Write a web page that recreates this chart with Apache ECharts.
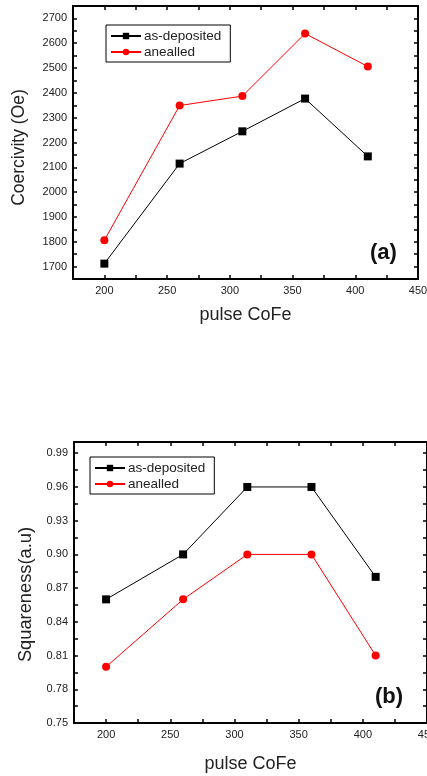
<!DOCTYPE html>
<html>
<head>
<meta charset="utf-8">
<script src="https://cdn.jsdelivr.net/npm/echarts@6/dist/echarts.min.js"></script>
<style>
  html, body { margin: 0; padding: 0; background: #fff; }
  #main { width: 427px; height: 776px; }
</style>
</head>
<body>
<div id="main"></div>
<script>
// pulse CoFe values
var pulses = [200, 260, 310, 360, 410];
// (a) coercivity (Oe)
var coerDeposited = [1712, 2115, 2245, 2377, 2144];
var coerAnealled = [1806, 2349, 2387, 2639, 2506];
// (b) squareness (a.u)
var sqDeposited = [0.86, 0.90, 0.96, 0.96, 0.88];
var sqAnealled = [0.80, 0.86, 0.90, 0.90, 0.81];

var font = 'Liberation Sans, Arial, sans-serif';

function pairs(xs, ys) {
    return xs.map(function (x, i) { return [x, ys[i]]; });
}

// 每50一个主刻度, 25一个小刻度
function xLabel(v) {
    return v % 50 === 0 ? String(v) : '';
}

function frameAxis(pos, grid, min, max, interval, showLabel, fmt) {
    return {
        type: 'value',
        gridIndex: grid,
        position: pos,
        min: min,
        max: max,
        interval: interval,
        axisLine: { show: true, onZero: false, lineStyle: { color: '#000', width: 2 } },
        axisTick: { show: true, inside: true, length: 4, lineStyle: { color: '#000', width: 1.5 } },
        axisLabel: {
            show: showLabel,
            formatter: fmt,
            color: '#222',
            fontSize: 11,
            fontFamily: font,
            margin: 6,
            showMaxLabel: true,
            showMinLabel: true
        },
        splitLine: { show: false }
    };
}

var chart = echarts.init(document.getElementById('main'));

var sqFmt = function (v) {
    var k = (v - 0.75) / 0.015;
    if (Math.abs(k - Math.round(k)) > 0.01) return '';
    return Math.round(k) % 2 === 0 ? v.toFixed(2) : '';
};
var coerFmt = function (v) {
    return v % 100 === 0 ? String(v) : '';
};

var nameStyle = { fontSize: 18, fontFamily: font, color: '#222' };

var xA = frameAxis('bottom', 0, 175, 450, 25, true, xLabel);
xA.name = 'pulse CoFe';
xA.nameLocation = 'middle';
xA.nameGap = 27;
xA.nameTextStyle = nameStyle;
var xAt = frameAxis('top', 0, 175, 450, 25, false);
var xB = frameAxis('bottom', 1, 175, 450, 25, true, xLabel);
xB.name = 'pulse CoFe';
xB.nameLocation = 'middle';
xB.nameGap = 32;
xB.nameTextStyle = nameStyle;
var xBt = frameAxis('top', 1, 175, 450, 25, false);

var yA = frameAxis('left', 0, 1650, 2750, 50, true, coerFmt);
yA.name = 'Coercivity (Oe)';
yA.nameLocation = 'middle';
yA.nameGap = 45;
yA.nameTextStyle = { fontSize: 17.5, fontFamily: font, color: '#222', padding: [0, 10, 0, 0] };
var yAr = frameAxis('right', 0, 1650, 2750, 50, false);
var yB = frameAxis('left', 1, 0.75, 1.0, 0.015, true, sqFmt);
yB.name = 'Squareness(a.u)';
yB.nameLocation = 'middle';
yB.nameGap = 39;
yB.nameTextStyle = { fontSize: 18.3, fontFamily: font, color: '#222', padding: [0, 24, 0, 0] };
var yBr = frameAxis('right', 1, 0.75, 1.0, 0.015, false);

function line(name, x, y, data, color, symbol, size) {
    return {
        name: name,
        type: 'line',
        xAxisIndex: x,
        yAxisIndex: y,
        data: data,
        symbol: symbol,
        symbolSize: size,
        color: color,
        lineStyle: { color: color, width: 1 },
        itemStyle: { color: color },
        animation: false
    };
}

var legendBase = {
    orient: 'vertical',
    data: ['as-deposited', 'anealled'],
    itemWidth: 30,
    itemHeight: 8,
    itemGap: 2,
    padding: [4, 9, 3, 4],
    borderColor: '#000',
    borderWidth: 1,
    textStyle: { fontSize: 13.5, fontFamily: font, color: '#222', padding: [0, 0, 0, -2] }
};

chart.setOption({
    backgroundColor: '#fff',
    animation: false,
    grid: [
        { left: 73, top: 6, width: 345, height: 273, outerBoundsMode: 'none' },
        { left: 74, top: 442, width: 353, height: 281, outerBoundsMode: 'none' }
    ],
    legend: [
        Object.assign({}, legendBase, { left: 106, top: 25 }),
        Object.assign({}, legendBase, { left: 90, top: 457 })
    ],
    xAxis: [xA, xAt, xB, xBt],
    yAxis: [yA, yAr, yB, yBr],
    graphic: [
        { type: 'text', left: 370, top: 242, style: { text: '(a)', font: 'bold 22px ' + font, fill: '#111' } },
        { type: 'text', left: 375, top: 686, style: { text: '(b)', font: 'bold 22px ' + font, fill: '#111' } }
    ],
    series: [
        line('as-deposited', 0, 0, pairs(pulses, coerDeposited), '#000', 'rect', 8),
        line('anealled', 0, 0, pairs(pulses, coerAnealled), '#ff0000', 'circle', 8),
        line('as-deposited', 2, 2, pairs(pulses, sqDeposited), '#000', 'rect', 8),
        line('anealled', 2, 2, pairs(pulses, sqAnealled), '#ff0000', 'circle', 8)
    ]
});
</script>
</body>
</html>
